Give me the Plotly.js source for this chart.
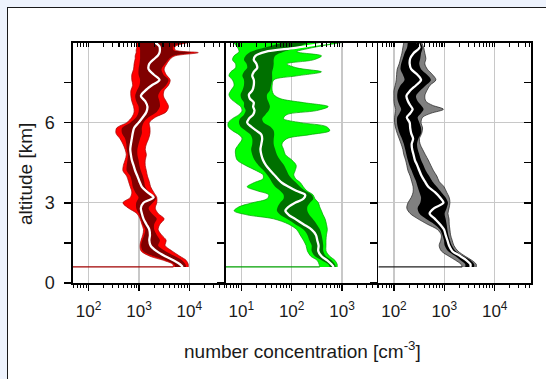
<!DOCTYPE html>
<html><head><meta charset="utf-8">
<script src="https://cdn.plot.ly/plotly-3.0.1.min.js"></script>
<style>
html,body{margin:0;padding:0;background:#eef3fd;width:546px;height:379px;overflow:hidden;position:relative;}
#frame{position:absolute;left:7px;top:7px;width:600px;height:400px;background:#fff;border-left:1.5px solid #1a1a1a;border-top:1.5px solid #1a1a1a;}
#chart{position:absolute;left:0;top:0;width:546px;height:379px;}
</style></head><body><div id="frame"></div><div id="chart"></div>
<script>
// ---------- data (altitude in km, number concentration in cm^-3) ----------
const alt1 = [0.6,0.7,0.85,1.0,1.2,1.4,1.6,1.8,2.0,2.2,2.4,2.6,2.8,3.0,3.2,3.4,3.6,3.8,4.0,4.2,4.4,4.6,4.8,5.0,5.2,5.4,5.6,5.8,6.0,6.2,6.4,6.6,6.8,7.0,7.2,7.4,7.6,7.8,8.0,8.2,8.4,8.5,8.62,8.72,8.85,9.0];
const redOuterLo = [4800,4700,3050,1660,1100,1050,1100,1190,1230,1140,1050,910,620,480,670,720,670,620,570,480,490,530,560,530,480,420,350,360,570,720,800,780,720,690,690,750,720,720,780,800,840,840,880,880,910,880];
const redInnerLo = [5200,4970,3450,1950,1190,1100,1160,1270,1330,1190,1090,990,880,880,980,840,750,720,670,570,570,590,600,570,560,530,460,460,670,880,980,980,880,840,910,1020,1050,980,980,1020,1050,1050,1050,1050,1020,980];
const redMedian = [7400,6500,4800,3300,2200,1700,1600,1650,1600,1400,1230,1140,1090,1230,1950,1470,1140,1020,930,840,780,720,690,670,690,720,750,800,980,1190,1400,1470,1330,1090,1330,1800,2550,1950,1550,1600,2050,2350,2550,2600,2550,2100];
const redInnerHi = [8600,8340,7100,5200,3300,2400,2600,2250,2000,2000,2250,1800,1550,1880,2200,1600,1330,1270,1190,1090,1020,980,930,930,980,1050,1140,1140,1230,1550,2250,2600,2550,2400,2700,3450,3850,3050,2800,3300,4000,4800,11100,4800,4800,8800];
const redOuterHi = [9500,9500,8600,6500,4500,3300,3450,2800,2400,2600,3150,2400,2100,2250,2250,1950,1700,1600,1470,1400,1330,1330,1400,1330,1400,1550,1650,1650,1600,2100,3450,3850,3450,3050,3150,3850,4150,3450,3150,3550,4250,5200,15000,5200,5200,10000];

const alt2 = [0.6,0.7,0.85,1.0,1.2,1.4,1.6,1.8,2.0,2.2,2.4,2.55,2.7,2.85,3.0,3.15,3.3,3.45,3.6,3.75,3.9,4.05,4.2,4.4,4.6,4.8,5.0,5.2,5.4,5.55,5.7,5.85,6.0,6.15,6.3,6.45,6.6,6.75,6.9,7.05,7.2,7.4,7.6,7.75,7.9,8.05,8.2,8.35,8.5,8.65,8.8,9.0];
const greenOuterLo = [360,350,320,240,205,193,171,147,126,87,44,13,7.2,9.0,16.5,32.5,35,20.7,13.1,17.7,27,27,20,12.2,8.3,7.7,7.7,9.0,10.5,9.0,6.7,5.5,5.5,6.7,9.0,10.5,9.7,7.7,6.2,5.7,6.2,7.2,6.7,5.7,6.2,7.7,7.7,6.7,7.2,9.0,8.5,7.0];
const greenInnerLo = [572,531,392,290,249,249,224,205,171,117,80,59,51,53,59,69,69,59,47,41,37,32.5,28,22,18.3,16.5,15.7,16.5,16.5,15.3,12.2,9.7,9.0,9.4,11.3,12.2,11.3,11.3,10,9.7,10.5,11.3,11.3,10.5,11.3,13.1,12.7,11.3,12.2,15.3,27.9,69];
const greenMedian = [685,617,507,392,337,342,322,303,249,171,117,87,75,87,117,171,185,123,87,64,53,45,38,31,27,25,24,25,26,25,20,15.7,13.1,14.2,17.2,18.3,17.2,17.7,14.8,14.2,16.5,17.7,17.7,16.5,17.7,20.7,20,17.7,19.1,30,120,600];
const greenInnerHi = [751,718,617,477,423,423,411,392,364,313,261,224,205,205,231,269,249,185,147,123,101,87,80,71,59,51,47,44,44,45,44,38,28,26,30,35,37,35,32.5,32.5,37,39,41,41,41,43,44,44,47,69,126,214];
const greenOuterHi = [800,800,720,570,480,480,480,490,510,490,460,420,390,360,340,290,265,200,170,150,120,110,117,123,101,75,69,64,80,230,570,490,150,69,80,310,530,170,59,44,41,41,44,126,390,126,80,270,390,126,250,1000];

const alt3 = [0.6,0.7,0.85,1.0,1.2,1.4,1.6,1.8,2.0,2.2,2.4,2.6,2.8,3.0,3.2,3.4,3.6,3.8,4.0,4.2,4.4,4.6,4.8,5.0,5.2,5.4,5.6,5.8,6.0,6.2,6.35,6.5,6.65,6.8,7.0,7.2,7.4,7.6,7.8,8.0,8.2,8.4,8.6,8.8,9.0];
const grayOuterLo = [2260,2150,1670,1240,870,790,850,870,730,460,300,210,180,190,220,240,240,225,210,190,180,170,157,150,139,127,116,108,103,103,106,108,103,100,100,100,106,111,113,116,127,135,144,150,157];
const grayInnerLo = [2600,2600,2100,1670,1180,1015,985,915,820,630,430,320,295,333,345,320,295,275,247,225,203,188,177,167,157,144,129,120,115,116,129,139,129,120,116,120,135,162,150,135,139,150,162,182,188];
const grayMedian = [3300,3300,2750,2100,1430,1240,1150,1060,985,820,650,510,630,960,820,650,480,410,355,320,290,260,245,230,225,240,220,210,205,180,210,235,210,190,177,210,275,345,290,220,205,210,245,320,295];
const grayInnerHi = [3900,3900,3300,2430,1670,1410,1290,1200,1150,1110,1060,1015,1110,1180,1060,870,710,580,500,430,387,345,320,296,287,305,345,345,320,296,345,387,345,296,274,333,430,540,450,345,318,333,345,370,333];
const grayOuterHi = [4300,4300,3500,2600,1850,1550,1430,1330,1290,1250,1240,1180,1240,1290,1250,1110,985,790,710,610,540,480,420,370,330,320,355,370,345,370,540,960,580,430,410,450,520,680,580,460,410,430,410,390,355];

const tickVals1 = [100, 1000, 10000];
const tickText1 = ['10<sup>2</sup>','10<sup>3</sup>','10<sup>4</sup>'];
const tickVals2 = [10, 100, 1000];
const tickText2 = ['10<sup>1</sup>','10<sup>2</sup>','10<sup>3</sup>'];
const tickVals3 = [100, 1000, 10000];
const tickText3 = ['10<sup>2</sup>','10<sup>3</sup>','10<sup>4</sup>'];

// ---------- drawing ----------
const FONT = '"Liberation Sans", Arial, Helvetica, sans-serif';
const xr = [[1.69,4.72],[0.69,3.72],[1.69,4.72]];
const YR = [0, 8.98];

// minor tick positions (2..9 of every decade inside the range)
function minorVals(r) {
  const out = [];
  for (let e = Math.floor(r[0]); e <= Math.ceil(r[1]); e++) {
    for (let d = 2; d <= 9; d++) {
      const v = d * Math.pow(10, e);
      const lv = Math.log10(v);
      if (lv > r[0] && lv < r[1]) out.push(v);
    }
  }
  return out;
}

const panels = [
  {alt:alt1, oLo:redOuterLo, iLo:redInnerLo, med:redMedian, iHi:redInnerHi, oHi:redOuterHi,
   light:'#ff0000', dark:'#800000', edge:'#a00000', x:'x', y:'y', xb:'x4', xt:'x7', yi:'y'},
  {alt:alt2, oLo:greenOuterLo, iLo:greenInnerLo, med:greenMedian, iHi:greenInnerHi, oHi:greenOuterHi,
   light:'#00ff00', dark:'#007000', edge:'#00a000', x:'x2', y:'y2', xb:'x5', xt:'x8', yi:'y2'},
  {alt:alt3, oLo:grayOuterLo, iLo:grayInnerLo, med:grayMedian, iHi:grayInnerHi, oHi:grayOuterHi,
   light:'#808080', dark:'#000000', edge:'#202020', x:'x3', y:'y3', xb:'x6', xt:'x9', yi:'y4'}
];

const traces = [];
panels.forEach((p, k) => {
  const sp = {shape:'spline', smoothing:0.9};
  const t = (xa, ya, extra) => Object.assign({xaxis:xa, yaxis:ya, mode:'lines', hoverinfo:'skip', showlegend:false, y:p.alt}, extra);
  // outer band (main subplot)
  traces.push(t(p.x, p.y, {x:p.oLo, line:Object.assign({color:p.edge, width:0.7}, sp)}));
  traces.push(t(p.x, p.y, {x:p.oHi, fill:'tonextx', fillcolor:p.light, line:Object.assign({color:p.edge, width:0.7}, sp)}));
  // inner band
  traces.push(t(p.x, p.yi, {x:p.iLo, line:Object.assign({color:p.dark, width:0}, sp)}));
  traces.push(t(p.x, p.yi, {x:p.iHi, fill:'tonextx', fillcolor:p.dark, line:Object.assign({color:p.dark, width:0}, sp)}));
  // ground level line from the axis edge to the profile
  traces.push(t(p.xb, p.y, {x:[Math.pow(10, xr[k][0]), p.oLo[0]], y:[p.alt[0], p.alt[0]], line:{color:p.edge, width:1.2}}));
  // median
  traces.push(t(p.xt, p.y, {x:p.med, line:Object.assign({color:'#ffffff', width:2.3}, sp)}));
});

const xTickFont = {family:FONT, size:17, color:'#1a1a1a'};
const yTickFont = {family:FONT, size:18, color:'#1a1a1a'};
const yId = k => k===0 ? 'y' : 'y'+(k+1);
const xId = k => k===0 ? 'x' : 'x'+(k+1);
function xMain(k, vals, text) {
  return {domain:[k/3, (k+1)/3], anchor:yId(k), type:'log', range:xr[k],
    tickmode:'array', tickvals:vals, ticktext:text, ticks:'outside', ticklen:6, tickwidth:1.5, tickcolor:'#000',
    showline:true, mirror:true, linecolor:'#000', linewidth:1.6,
    showgrid:true, gridcolor:'#c8c8c8', gridwidth:1.3, zeroline:false, tickfont:xTickFont,
    ticklabelstandoff:6, fixedrange:true};
}
function xMinorBottom(k) {
  return {overlaying:xId(k), side:'bottom', anchor:yId(k), type:'log', range:xr[k],
    tickmode:'array', tickvals:minorVals(xr[k]), ticks:'outside', ticklen:4, tickwidth:1, tickcolor:'#000',
    showticklabels:false, showgrid:false, showline:false, zeroline:false, fixedrange:true};
}
function xTop(k, vals) {
  return {overlaying:xId(k), side:'top', anchor:yId(k), type:'log', range:xr[k],
    tickmode:'array', tickvals:vals.concat(minorVals(xr[k])), ticks:'inside', ticklen:4, tickwidth:1.1, tickcolor:'#000',
    showticklabels:false, showgrid:false, showline:false, zeroline:false, fixedrange:true};
}
function yAxis(k) {
  return {domain:[0,1], anchor:xId(k), range:YR, tickmode:'linear', tick0:0, dtick:1.5,
    ticks:'outside', ticklen:7, tickwidth:1.5, tickcolor:'#000', showticklabels:false,
    showline:true, linecolor:'#000', linewidth:1.6,
    showgrid:false, zeroline:false, fixedrange:true};
}
function yGrid(k, labels) {
  // labelled / gridded axis with major steps of 3 km and minor ticks every 1.5 km
  return Object.assign(yAxis(k), {dtick:3, showgrid:true, gridcolor:'#c8c8c8', gridwidth:1.3,
    showticklabels:labels, tickfont:yTickFont, ticklabelstandoff:6,
    minor:{tick0:0, dtick:1.5, ticks:'outside', ticklen:7, tickwidth:1.5, tickcolor:'#000'}});
}

const layout = {
  width:546, height:379,
  margin:{l:73, r:15, t:43, b:96, pad:0},
  paper_bgcolor:'rgba(0,0,0,0)', plot_bgcolor:'rgba(0,0,0,0)',
  font:{family:FONT, color:'#1a1a1a'},
  showlegend:false,
  xaxis:xMain(0, tickVals1, tickText1),
  xaxis2:xMain(1, tickVals2, tickText2),
  xaxis3:xMain(2, tickVals3, tickText3),
  xaxis4:xMinorBottom(0),
  xaxis5:xMinorBottom(1),
  xaxis6:xMinorBottom(2),
  xaxis7:xTop(0, tickVals1),
  xaxis8:xTop(1, tickVals2),
  xaxis9:xTop(2, tickVals3),
  yaxis:yGrid(0, true),
  yaxis2:yGrid(1, false),
  yaxis3:yGrid(2, false),
  yaxis4:Object.assign(yAxis(2), {overlaying:'y3', side:'right', anchor:'x3', ticks:'inside'}),
  annotations:[
    {text:'number concentration [cm<sup>-3</sup>]', xref:'paper', yref:'paper', x:0.5, y:-0.28,
     xanchor:'center', yanchor:'middle', showarrow:false, font:{family:FONT, size:19, color:'#1a1a1a'}},
    {text:'altitude [km]', xref:'paper', yref:'paper', x:-0.102, y:0.455, textangle:-90,
     xanchor:'center', yanchor:'middle', showarrow:false, font:{family:FONT, size:19, color:'#1a1a1a'}}
  ]
};

Plotly.newPlot('chart', traces, layout, {staticPlot:true, displayModeBar:false});
</script></body></html>
